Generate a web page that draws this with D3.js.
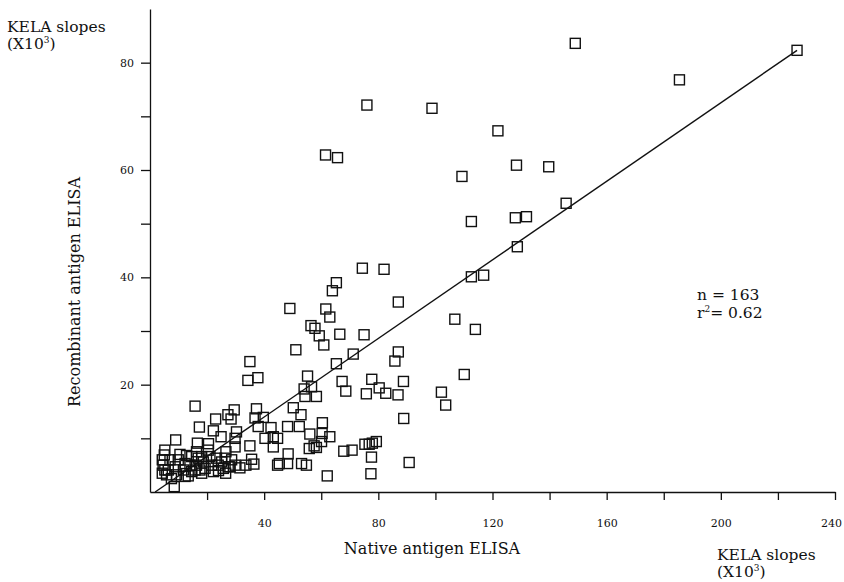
<!DOCTYPE html>
<html>
<head>
<meta charset="utf-8">
<script src="https://cdn.jsdelivr.net/npm/d3@7"></script>
<style>
  body { margin: 0; background: #fff; }
  svg text { font-family: "DejaVu Serif", "Liberation Serif", serif; fill: #111; }
  .axis path, .axis line { stroke: #111; stroke-width: 1.3; }
</style>
</head>
<body>
<svg id="chart" width="844" height="582"></svg>
<script>
// native antigen ELISA (x) vs recombinant antigen ELISA (y), KELA slopes x10^3
const nativeVals = [
  149.0, 226.7, 185.5, 98.8, 121.9, 128.4, 139.7, 109.3, 145.8, 112.6,
  128.0, 131.9, 128.7, 76.0, 61.5, 65.7, 74.4, 82.0, 65.3, 63.9,
  87.0, 49.0, 61.6, 63.0, 56.4, 57.8, 59.3, 66.5, 75.0, 60.9,
  51.1, 71.2, 87.0, 85.8, 65.3, 35.0, 55.2, 34.3, 37.8, 67.3,
  77.7, 88.8, 112.6, 116.9, 106.8, 114.0, 110.1, 68.6, 80.3, 75.8,
  82.6, 86.9, 102.1, 103.6, 88.9, 63.0, 67.9, 70.8, 75.3, 76.8,
  77.9, 79.3, 77.6, 90.8, 77.4, 62.1, 54.0, 56.6, 54.3, 58.3,
  37.3, 36.8, 39.7, 37.9, 42.4, 43.2, 40.3, 44.7, 43.2, 50.2,
  52.9, 48.2, 52.3, 60.4, 56.0, 60.3, 60.1, 55.8, 58.3, 57.5,
  48.4, 48.2, 45.3, 44.7, 53.1, 54.8, 35.0, 35.6, 36.4, 33.6,
  30.3, 29.8, 29.5, 27.3, 28.4, 15.8, 23.0, 17.3, 22.2, 24.9,
  9.0, 16.6, 26.6, 29.8, 8.5, 5.2, 5.0, 4.3, 4.6, 5.2,
  4.3, 5.8, 7.0, 6.4, 9.9, 8.8, 9.3, 12.3, 11.7, 12.3,
  14.6, 14.0, 14.6, 13.4, 16.3, 16.9, 16.3, 15.8, 18.1, 18.7,
  19.3, 18.1, 20.4, 21.0, 21.6, 22.2, 23.3, 23.9, 25.1, 25.7,
  27.4, 26.3, 28.6, 28.0, 29.8, 17.5, 24.0, 10.5, 12.8, 20.5,
  7.5, 26.5, 31.5
];
const recombVals = [
  83.6, 82.3, 76.8, 71.5, 67.3, 60.9, 60.6, 58.8, 53.8, 50.4,
  51.1, 51.3, 45.7, 72.1, 62.8, 62.3, 41.7, 41.5, 39.0, 37.5,
  35.4, 34.2, 34.1, 32.6, 31.0, 30.5, 29.1, 29.4, 29.3, 27.4,
  26.5, 25.7, 26.1, 24.4, 23.9, 24.3, 21.6, 20.8, 21.3, 20.6,
  21.0, 20.6, 40.1, 40.4, 32.2, 30.3, 21.9, 18.8, 19.4, 18.3,
  18.4, 18.1, 18.6, 16.2, 13.7, 10.3, 7.6, 7.8, 8.9, 8.9,
  9.1, 9.4, 6.5, 5.5, 3.4, 3.0, 19.2, 19.6, 17.8, 17.8,
  15.5, 13.8, 13.9, 12.2, 12.0, 10.3, 10.0, 10.0, 8.4, 15.7,
  14.4, 12.2, 12.2, 12.9, 10.8, 10.9, 9.4, 8.1, 8.3, 8.6,
  7.1, 5.3, 5.3, 5.0, 5.3, 5.0, 8.6, 6.1, 5.2, 5.0,
  11.2, 8.4, 15.3, 14.4, 13.6, 16.0, 13.6, 12.1, 11.4, 10.3,
  9.7, 9.1, 7.5, 10.0, 1.0, 7.8, 6.9, 6.0, 5.0, 4.1,
  3.5, 3.2, 6.0, 4.1, 6.0, 4.7, 3.2, 5.3, 4.1, 2.9,
  6.6, 5.0, 3.8, 3.0, 7.5, 6.3, 5.0, 4.1, 6.6, 5.6,
  4.4, 3.5, 7.8, 6.6, 5.0, 3.8, 6.3, 5.0, 5.6, 4.4,
  4.7, 6.3, 6.0, 4.7, 5.0, 4.1, 4.0, 7.0, 6.8, 9.0,
  2.5, 3.5, 4.5
];

// regression line ends
const fitX = [1.8, 226.7];
const fitY = [0, 82.3];

const xTickVals = [20, 40, 60, 80, 100, 120, 140, 160, 180, 200, 220, 240];
const yTickVals = [10, 20, 30, 40, 50, 60, 70, 80];

const svg = d3.select('#chart');

const x = d3.scaleLinear().domain([0, 240]).range([150, 835]);
const y = d3.scaleLinear().domain([0, 90]).range([492, 9]);

const xAxis = d3.axisBottom(x)
  .tickValues(xTickVals)
  .tickSize(8)
  .tickSizeOuter(0)
  .tickPadding(19)
  .tickFormat(d => d % 40 === 0 ? d : '');

const yAxis = d3.axisLeft(y)
  .tickValues(yTickVals)
  .tickSize(9)
  .tickSizeOuter(0)
  .tickPadding(7)
  .tickFormat(d => d % 20 === 0 ? d : '');

svg.append('g').attr('class', 'axis')
  .attr('transform', `translate(0, ${y(0)})`)
  .call(xAxis)
  .selectAll('text')
  .style('font-size', '11px')
  .attr('dx', d => d === 240 ? -4 : 0); // keep last label inside the frame

svg.append('g').attr('class', 'axis')
  .attr('transform', `translate(${x(0)}, 0)`)
  .call(yAxis)
  .selectAll('text').style('font-size', '11px');

// fit line
svg.append('line')
  .attr('x1', x(fitX[0])).attr('y1', y(fitY[0]))
  .attr('x2', x(fitX[1])).attr('y2', y(fitY[1]))
  .attr('stroke', '#111')
  .attr('stroke-width', 1.4);

// points
const pts = nativeVals.map((v, i) => ({x: v, y: recombVals[i]}));
const s = 10;
svg.selectAll('.pt')
  .data(pts)
  .join('rect')
  .attr('class', 'pt')
  .attr('x', d => x(d.x) - s / 2)
  .attr('y', d => y(d.y) - s / 2)
  .attr('width', s)
  .attr('height', s)
  .attr('fill', 'none')
  .attr('stroke', '#111')
  .attr('stroke-width', 1.4);

// axis titles
svg.append('text')
  .attr('x', 432).attr('y', 554)
  .attr('text-anchor', 'middle')
  .style('font-size', '16px')
  .text('Native antigen ELISA');

svg.append('text')
  .attr('transform', 'translate(80, 292) rotate(-90)')
  .attr('text-anchor', 'middle')
  .style('font-size', '16px')
  .text('Recombinant antigen ELISA');

// unit labels, one text per line
function unitLabel(px, py) {
  svg.append('text').attr('x', px).attr('y', py)
    .style('font-size', '15.5px').text('KELA slopes');
  const t = svg.append('text').attr('x', px).attr('y', py + 17)
    .style('font-size', '15.5px');
  t.append('tspan').text('(X10');
  t.append('tspan').attr('dy', -6).style('font-size', '9px').text('3');
  t.append('tspan').attr('dy', 6).text(')');
}
unitLabel(7, 32);
unitLabel(717, 560);

// stats
svg.append('text').attr('x', 697).attr('y', 300)
  .style('font-size', '15.5px').text('n = 163');
const st = svg.append('text').attr('x', 697).attr('y', 318).style('font-size', '15.5px');
st.append('tspan').text('r');
st.append('tspan').attr('dy', -6).style('font-size', '9px').text('2');
st.append('tspan').attr('dy', 6).text('= 0.62');
</script>
</body>
</html>
